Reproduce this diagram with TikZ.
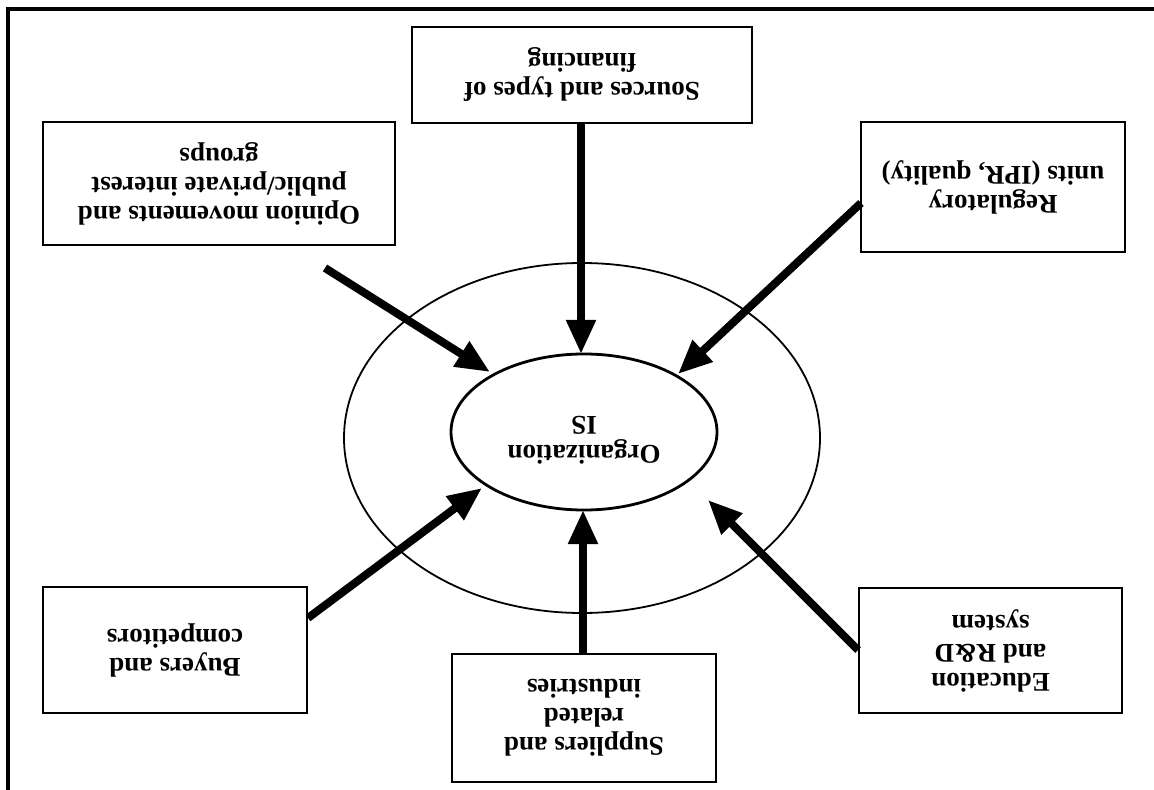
\documentclass[tikz,border=0pt]{standalone}
\usepackage{fontspec}
\setmainfont{Liberation Serif}
\usetikzlibrary{arrows.meta,shapes.geometric}
\begin{document}
\begin{tikzpicture}[x=0.5pt,y=-0.5pt,
  lbl/.style={rotate=180,align=center,font=\bfseries\fontsize{13.5}{14.5}\selectfont,inner sep=0pt},
  box/.style={draw,line width=1.1pt,lbl},
  arr/.style={line width=4pt,-{Triangle[length=17pt,width=14pt]}}]
\useasboundingbox (0,0) rectangle (1154,790);
\draw[line width=2pt] (8,790) -- (8,9) -- (1154,9);
% ellipses
\coordinate (outer) at (582,438);
\coordinate (inner) at (584,432);
\draw[line width=0.9pt] (outer) ellipse [x radius=238, y radius=175];
\draw[line width=1.4pt] (inner) ellipse [x radius=133, y radius=78];
\node[lbl] (org) at (584,440) {Organization\\IS};
% boxes
\node[box,minimum width=170pt,minimum height=48pt] (src) at (582,75) {Sources and types of\\financing};
\node[box,minimum width=176pt,minimum height=61.5pt] (opi) at (219,183.5) {Opinion movements and\\public/private interest\\groups};
\node[box,minimum width=132pt,minimum height=65pt] (reg) at (993,187) {Regulatory\\units (IPR, quality)};
\node[box,minimum width=132pt,minimum height=63pt] (buy) at (175,650) {Buyers and\\competitors};
\node[box,minimum width=132pt,minimum height=64pt] (sup) at (584,718) {Suppliers and\\related\\industries};
\node[box,minimum width=131.5pt,minimum height=62.5pt] (edu) at (990.5,650.5) {Education\\and R\&D\\system};
% arrow ends
\coordinate (s1) at (581,123);  \coordinate (t1) at (581,354);
\coordinate (s2) at (325,268);  \coordinate (t2) at (490,372);
\coordinate (s3) at (861,203);  \coordinate (t3) at (678,374);
\coordinate (s4) at (308,618);  \coordinate (t4) at (482,488);
\coordinate (s5) at (583,654);  \coordinate (t5) at (583,510);
\coordinate (s6) at (858,650);  \coordinate (t6) at (708,500);
\draw[arr] (s1) -- (t1);
\draw[arr] (s2) -- (t2);
\draw[arr] (s3) -- (t3);
\draw[arr] (s4) -- (t4);
\draw[arr] (s5) -- (t5);
\draw[arr] (s6) -- (t6);
\end{tikzpicture}
\end{document}
